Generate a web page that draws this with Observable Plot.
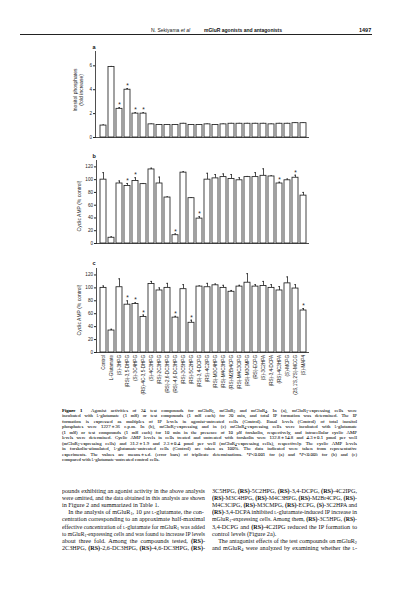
<!DOCTYPE html>
<html><head><meta charset="utf-8">
<script src="https://cdn.jsdelivr.net/npm/d3@7"></script>
<script src="https://cdn.jsdelivr.net/npm/@observablehq/plot@0.6"></script>
<style>
html,body{margin:0;padding:0;background:#fff;}
body{width:413px;height:599px;position:relative;overflow:hidden;font-family:"Liberation Serif","Times New Roman",serif;color:#111;}
.abs{position:absolute;white-space:nowrap;}
.sc{font-variant:small-caps;}
.ln{display:block;text-align:justify;text-align-last:justify;white-space:nowrap;transform-origin:0 0;}
.ln.last{text-align-last:left;}
.ylab{position:absolute;font-family:"Liberation Sans",Arial,sans-serif;font-size:5px;line-height:5.6px;text-align:center;transform:translate(-50%,-50%) rotate(-90deg);white-space:nowrap;color:#222;}
.plet{position:absolute;font-family:"Liberation Sans",Arial,sans-serif;font-weight:bold;font-size:5.5px;}
.hd{position:absolute;top:27px;}
#cap{color:#000;-webkit-text-stroke:0.04px #000;}
#cap sub, #colL sub, #colR sub{font-size:70%;line-height:0;vertical-align:-0.2em;}
</style></head>
<body>
<div class="hd" style="left:151px;font-family:'Liberation Sans',Arial,sans-serif;font-size:5px;">N. Sekiyama <i>et al</i></div>
<div class="hd" style="left:204px;font-family:'Liberation Sans',Arial,sans-serif;font-weight:bold;font-size:5px;">mGluR agonists and antagonists</div>
<div class="hd" style="left:359px;font-family:'Liberation Sans',Arial,sans-serif;font-weight:bold;font-size:5.5px;">1497</div>
<div class="abs" style="left:20px;top:33.5px;width:352px;height:0.9px;background:#222;"></div>

<div class="plet" style="left:92.5px;top:44px;">a</div>
<div class="plet" style="left:92.5px;top:153px;">b</div>
<div class="plet" style="left:92.5px;top:260px;">c</div>
<div class="ylab" style="left:79px;top:90px;">Inositol phosphates<br>(fold increase)</div>
<div class="ylab" style="left:80px;top:206px;">Cyclic AMP (% control)</div>
<div class="ylab" style="left:80px;top:310px;">Cyclic AMP (% control)</div>

<div id="pa" class="abs" style="left:55px;top:40px;"></div>
<div id="pb" class="abs" style="left:55px;top:150px;"></div>
<div id="pc" class="abs" style="left:55px;top:255px;"></div>

<div id="cap" class="abs" style="left:62px;top:407.5px;width:295px;font-size:4.8px;line-height:5.55px;"></div>
<div id="colL" class="abs" style="left:62px;top:486.5px;width:143px;font-size:6.2px;line-height:7.2px;"></div>
<div id="colR" class="abs" style="left:212px;top:486.5px;width:145px;font-size:6.2px;line-height:7.2px;"></div>

<script>
// ---- data ----
const compounds = ["Control","L-Glutamate","(S)-3HPG","(RS)-3,5-DHPG","(S)-3C4HPG","(RS)-4C-3,5-DHPG",
  "(S)-4C3HPG","(RS)-2C3HPG","(RS)-2,6-DC3HPG","(RS)-4,6-DC3HPG","(RS)-3C5HPG","(RS)-5C2HPG",
  "(RS)-3,4-DCPG","(RS)-4C2IPG","(RS)-M3C4HPG","(RS)-M4C3HPG","(RS)-M2Br4CPG","(RS)-M4C3ClPG",
  "(RS)-M3CMPG","(RS)-ECPG","(S)-3C2HPA","(RS)-3,4-DCPA","(RS)-4C3HPA","(S)-MCPG",
  "(2S,1'S,2'S)-MCCG","(S)-MAP4"];

// (a) mGluR1, IP formation (fold increase)
const ipFold = [1.0,5.9,2.4,4.0,2.0,2.0,1.1,1.05,1.05,1.05,1.15,1.05,1.05,1.1,1.05,1.1,1.15,1.15,1.15,1.15,1.15,1.1,1.15,1.15,1.2,1.2];
const ipErr  = [0.05,0.05,0.1,0.1,0.08,0.08,0.03,0.03,0.03,0.03,0.03,0.03,0.03,0.03,0.03,0.03,0.03,0.03,0.03,0.03,0.03,0.03,0.03,0.03,0.03,0.03];
const ipSig  = [0,0,1,1,1,1,0,0,0,0,0,0,0,0,0,0,0,0,0,0,0,0,0,0,0,0];

// (b) mGluR2, cyclic AMP (% control)
const r2Camp = [100,9,94,90,98,93,116,94,72,13,111,71,39,100,102,104,101,99,104,104,106,105,94,99,103,75];
const r2Err  = [11,1.5,4,4,5,1,2,10,1,2,1.5,1,3,10,6,5,7,4,1,7,11,1,2,2,4,5];
const r2Sig  = [0,0,0,1,1,0,0,0,0,1,0,0,1,0,0,0,0,0,0,0,0,0,1,0,1,0];

// (c) mGluR4, cyclic AMP (% control)
const r4Camp = [100,34,101,74,75,55,106,96,100,54,98,46,102,101,104,100,94,102,108,102,103,100,96,107,99,65];
const r4Err  = [3,2,13,6,2,3,4,4,7,2,7,4,1,6,2,4,2,2,14,3,7,5,6,10,6,3];
const r4Sig  = [0,0,0,1,1,1,0,0,0,1,0,1,0,0,0,0,0,0,0,0,0,0,0,0,0,1];

const ipTicks = [0,2,4,6];
const campTicks = [0,20,40,60,80,100,120];

function rowsOf(vals, errs, sig){
  return compounds.map((c,i)=>({c, v: vals[i], e: errs[i], s: sig[i]}));
}

function panel({rows, yMax, ticks, height, marginTop, marginBottom, marginLeft, insetLeft, showX}){
  return Plot.plot({
    width: 260, height, marginLeft, marginRight: 6, marginTop, marginBottom,
    style: {fontFamily: "'Liberation Sans', Arial, sans-serif", fontSize: "4.6px", background: "transparent", color: "#222"},
    x: {domain: compounds, paddingInner: 0.2, paddingOuter: 0.1, insetLeft, axis: showX ? "bottom" : null,
        tickSize: 0, tickRotate: -90, tickPadding: 2.5, label: null},
    y: {domain: [0, yMax], ticks, tickSize: 2, tickPadding: 1.5, label: null},
    marks: [
      Plot.frame({anchor: "left", stroke: "#222", strokeWidth: 0.8}),
      Plot.ruleY([0], {stroke: "#222", strokeWidth: 0.8}),
      Plot.ruleX(rows, {x: "c", y1: "v", y2: d => d.v + d.e, stroke: "#222", strokeWidth: 0.8}),
      Plot.tickY(rows, {x: "c", y: d => d.v + d.e, insetLeft: 2.2, insetRight: 2.2, stroke: "#222", strokeWidth: 0.8}),
      Plot.barY(rows, {x: "c", y: "v", fill: "white", stroke: "#222", strokeWidth: 0.85}),
      Plot.text(rows.filter(d => d.s), {x: "c", y: d => d.v + d.e, text: () => "*", dy: -2.5, fontSize: 6.5, fill: "#222"})
    ]
  });
}

document.getElementById("pa").append(panel({rows: rowsOf(ipFold, ipErr, ipSig), yMax: 7.2, ticks: ipTicks,
  height: 101, marginTop: 11, marginBottom: 4, marginLeft: 40, insetLeft: 1.5, showX: false}));
document.getElementById("pb").append(panel({rows: rowsOf(r2Camp, r2Err, r2Sig), yMax: 130, ticks: campTicks,
  height: 97, marginTop: 10, marginBottom: 4, marginLeft: 41, insetLeft: 0.5, showX: false}));
document.getElementById("pc").append(panel({rows: rowsOf(r4Camp, r4Err, r4Sig), yMax: 130, ticks: campTicks,
  height: 147, marginTop: 13, marginBottom: 50, marginLeft: 41, insetLeft: 0.5, showX: true}));

// ---- text ----
const Lg = '<span class="sc">l</span>-glutamate';
const mM = 'm<span class="sc">m</span>';
const R = n => `mGluR<sub>${n}</sub>`;
const capLines = [
  `<b>Figure 1</b>&nbsp; Agonist activities of 24 test compounds for ${R(1)}, ${R(2)} and ${R(4)}. In (a), ${R(1)}-expressing cells were`,
  `incubated with ${Lg} (1 ${mM}) or test compounds (1 ${mM} each) for 20 min, and total IP formation was determined. The IP`,
  `formation is expressed as multiples of IP levels in agonist-untreated cells (Control). Basal levels (Control) of total inositol`,
  `phosphates were 1227&thinsp;±&thinsp;36 c.p.m. In (b), ${R(2)}-expressing and in (c) ${R(4)}-expressing cells were incubated with ${Lg}`,
  `(1 ${mM}) or test compounds (1 ${mM} each) for 10 min in the presence of 10 μ<span class="sc">m</span> forskolin, respectively, and intracellular cyclic AMP`,
  `levels were determined. Cyclic AMP levels in cells treated and untreated with forskolin were 132.8&thinsp;±&thinsp;14.8 and 4.3&thinsp;±&thinsp;0.1 pmol per well`,
  `(${R(2)}-expressing cells) and 31.2&thinsp;±&thinsp;1.9 and 2.3&thinsp;±&thinsp;0.4 pmol per well (${R(4)}-expressing cells), respectively. The cyclic AMP levels`,
  `in forskolin-stimulated, ${Lg}-untreated cells (Control) are taken as 100%. The data indicated were taken from representative`,
  `experiments. The values are means&thinsp;±&thinsp;s.d. (error bars) of triplicate determinations. *<i>P</i>&lt;0.001 for (a) and *<i>P</i>&lt;0.005 for (b) and (c)`,
  `compared with ${Lg}-untreated control cells.|`
];
const leftLines = [
  `pounds exhibiting an agonist activity in the above analysis`,
  `were omitted, and the data obtained in this analysis are shown`,
  `in Figure 2 and summarized in Table 1.|`,
  `&emsp;In the analysis of ${R(1)}, 10 μ<span class="sc">m</span> ${Lg}, the con-`,
  `centration corresponding to an approximate half-maximal`,
  `effective concentration of ${Lg} for ${R(1)} was added`,
  `to ${R(1)}-expressing cells and was found to increase IP levels`,
  `about three fold. Among the compounds tested, <b>(RS)</b>-`,
  `2C3HPG, <b>(RS)</b>-2,6-DC3HPG, <b>(RS)</b>-4,6-DC3HPG, <b>(RS)</b>-`
];
const rightLines = [
  `3C5HPG, <b>(RS)</b>-5C2HPG, <b>(RS)</b>-3,4-DCPG, <b>(RS)</b>-4C2IPG,`,
  `<b>(RS)</b>-M3C4HPG, <b>(RS)</b>-M4C3HPG, <b>(RS)</b>-M2Br4CPG, <b>(RS)</b>-`,
  `M4C3ClPG, <b>(RS)</b>-M3CMPG, <b>(RS)</b>-ECPG, <b>(S)</b>-3C2HPA and`,
  `<b>(RS)</b>-3,4-DCPA inhibited ${Lg}-induced IP increase in`,
  `${R(1)}-expressing cells. Among them, <b>(RS)</b>-3C5HPG, <b>(RS)</b>-`,
  `3,4-DCPG and <b>(RS)</b>-4C2IPG reduced the IP formation to`,
  `control levels (Figure 2a).|`,
  `&emsp;The antagonist effects of the test compounds on ${R(2)}`,
  `and ${R(4)} were analyzed by examining whether the <span class="sc">l</span>-`
];
function fill(id, lines){
  const el = document.getElementById(id);
  const W = parseFloat(el.style.width);
  el.innerHTML = lines.map(l => {
    const last = l.endsWith('|');
    return `<span class="ln${last ? ' last' : ''}"><span class="in">${last ? l.slice(0,-1) : l}</span></span>`;
  }).join('');
  el.querySelectorAll('.ln').forEach(ln => {
    const nat = ln.querySelector('.in').getBoundingClientRect().width;
    if (nat > W) {
      ln.style.width = nat + 'px';
      ln.style.textAlignLast = 'left';
      ln.style.transform = `scaleX(${W / nat})`;
    }
  });
}
fill('cap', capLines); fill('colL', leftLines); fill('colR', rightLines);
</script>
</body></html>
